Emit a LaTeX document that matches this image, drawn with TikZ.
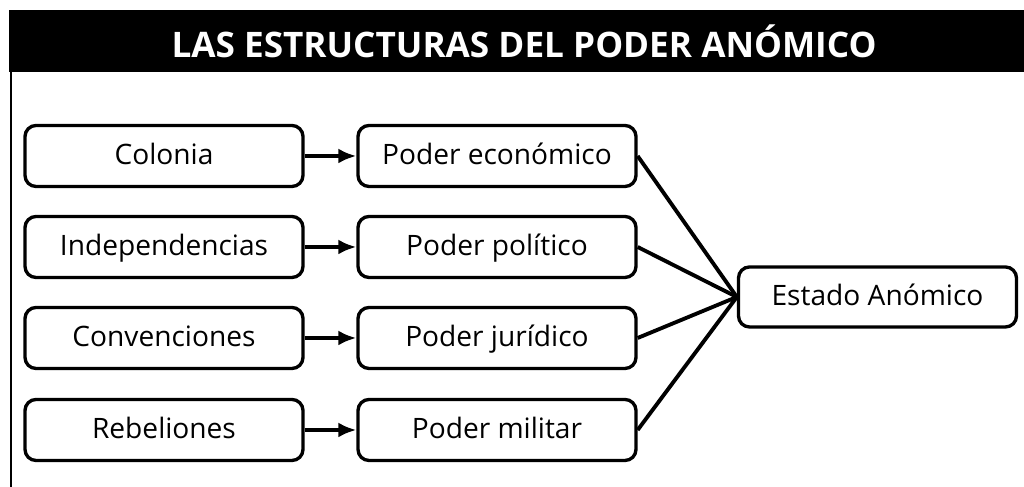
\documentclass[tikz,border=0pt]{standalone}
\usepackage{fontspec}
\setmainfont{Open Sans}
\usepackage{tikz}
\usetikzlibrary{arrows.meta}

\tikzset{
    caja/.style={draw, line width=1.9pt, rounded corners=0.22cm, minimum width=5.56cm,
        minimum height=1.22cm, inner sep=0pt, text height=1.0em, text depth=0em,
        font=\fontsize{16}{18}\selectfont},
    flecha/.style={-{Latex[length=0.36cm, width=0.3cm]}, line width=2.4pt},
    enlace/.style={line width=2.2pt}
}

\begin{document}
\begin{tikzpicture}
    \useasboundingbox (0,0) rectangle (20.48,9.74);

    % Title bar
    \fill[black] (0.18,8.30) rectangle (20.48,9.54);
    \node[text=white, font=\fontsize{20}{24}\selectfont\bfseries] (titulo) at (10.48,8.92) {LAS ESTRUCTURAS DEL PODER ANÓMICO};
    \draw[line width=1pt] (0.22,8.30) -- (0.22,0);

    % Causes
    \node[caja] (colonia) at (3.28,6.62) {Colonia};
    \node[caja] (indep) at (3.28,4.80) {Independencias};
    \node[caja] (conv) at (3.28,2.98) {Convenciones};
    \node[caja] (rebel) at (3.28,1.14) {Rebeliones};

    % Powers
    \node[caja] (economico) at (9.94,6.62) {Poder económico};
    \node[caja] (politico) at (9.94,4.80) {Poder político};
    \node[caja] (juridico) at (9.94,2.98) {Poder jurídico};
    \node[caja] (militar) at (9.94,1.14) {Poder militar};

    % Result
    \node[caja, minimum height=1.2cm] (estado) at (17.55,3.80) {Estado Anómico};

    % Arrows
    \draw[flecha] (colonia) -- (economico);
    \draw[flecha] (indep) -- (politico);
    \draw[flecha] (conv) -- (juridico);
    \draw[flecha] (rebel) -- (militar);

    \draw[enlace] (economico.east) -- (estado.west);
    \draw[enlace] (politico.east) -- (estado.west);
    \draw[enlace] (juridico.east) -- (estado.west);
    \draw[enlace] (militar.east) -- (estado.west);
\end{tikzpicture}
\end{document}
